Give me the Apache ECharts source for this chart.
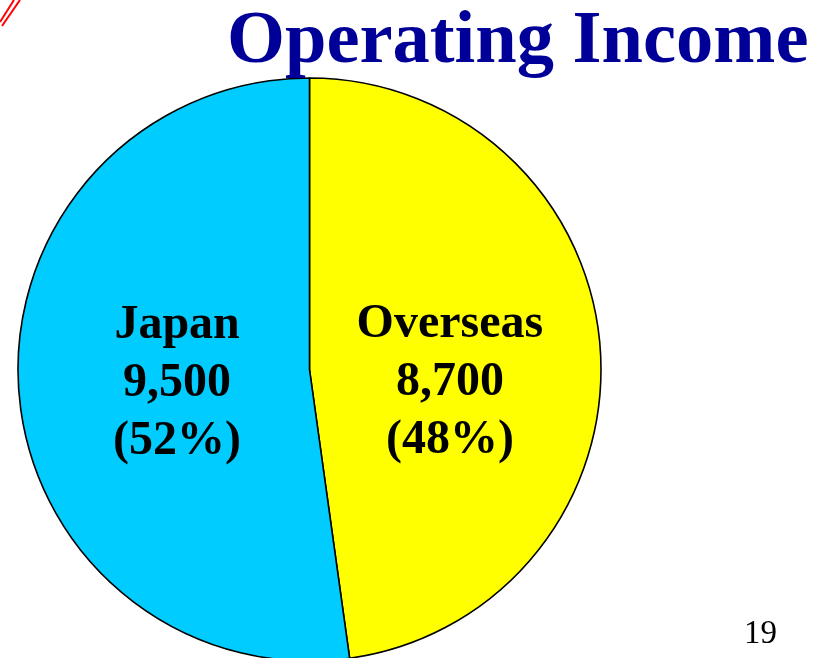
<!DOCTYPE html>
<html>
<head>
<meta charset="utf-8">
<script src="https://cdn.jsdelivr.net/npm/echarts@6/dist/echarts.min.js"></script>
<style>html,body{margin:0;padding:0;background:#fff;}#c{width:814px;height:658px;}</style>
</head>
<body>
<div id="c"></div>
<script>
const titleText = 'Operating Income';
const categories = ['Overseas', 'Japan'];
const values = [8700, 9500];
const colors = ['#FFFF00', '#00CCFF'];
const pageNumber = '19';

const chart = echarts.init(document.getElementById('c'), null, {renderer: 'canvas'});
const labelShift = {Overseas: [-8, 23], Japan: [16, 4]};
chart.setOption({
  animation: false,
  backgroundColor: '#ffffff',
  title: {
    text: titleText,
    left: 222, top: 0,
    textStyle: {fontFamily: 'Liberation Serif', fontWeight: 'bold', fontSize: 74.5, color: '#000099'}
  },
  graphic: [
    {type: 'line', shape: {x1: 0, y1: 22, x2: 14, y2: 0}, style: {stroke: '#ff0000', lineWidth: 2}},
    {type: 'line', shape: {x1: 2, y1: 26, x2: 20, y2: 0}, style: {stroke: '#ff0000', lineWidth: 2}},
    {type: 'text', left: 744, top: 618, style: {text: pageNumber, font: '33px "Liberation Serif"', fill: '#000'}}
  ],
  series: [{
    type: 'pie',
    center: [309.5, 369.5],
    radius: 291.5,
    startAngle: 90,
    clockwise: true,
    avoidLabelOverlap: false,
    itemStyle: {borderColor: '#000', borderWidth: 1.6},
    label: {
      position: 'inside',
      fontFamily: 'Liberation Serif', fontWeight: 'bold', fontSize: 48, lineHeight: 58,
      color: '#000', align: 'center',
      formatter: p => p.name + '\n' + p.value.toLocaleString('en-US') + '\n(' + Math.round(p.percent) + '%)'
    },
    labelLayout: p => ({dx: labelShift[categories[p.dataIndex]][0], dy: labelShift[categories[p.dataIndex]][1]}),
    emphasis: {disabled: true},
    data: categories.map((c, i) => ({name: c, value: values[i], itemStyle: {color: colors[i]}}))
  }]
});
</script>
</body>
</html>
